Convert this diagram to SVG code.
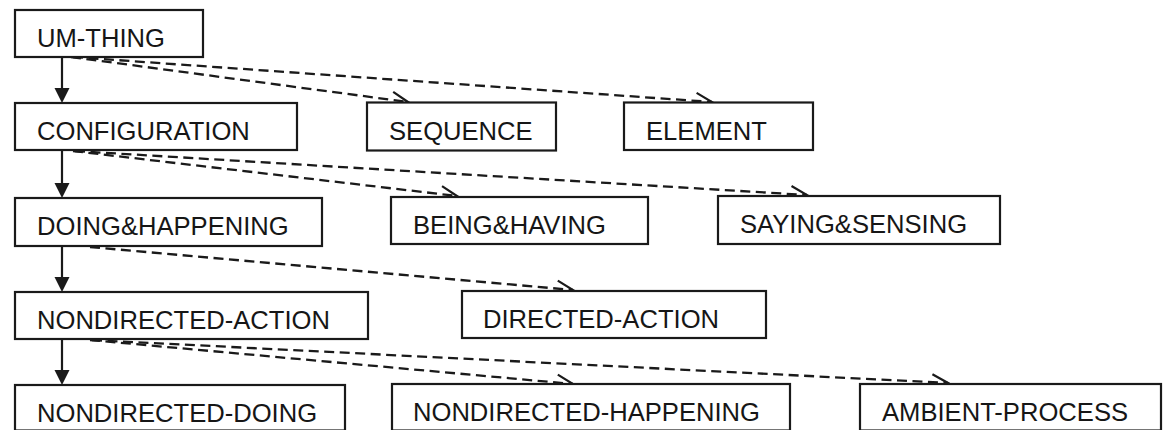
<svg xmlns="http://www.w3.org/2000/svg" width="1167" height="430" viewBox="0 0 1167 430">
  <style>
    .box { fill: #ffffff; stroke: #1a1a1a; stroke-width: 2.2; }
    .label { font-family: "Liberation Sans", Arial, Helvetica, sans-serif; font-size: 25.6px; fill: #161616; }
    .isa { stroke: #1a1a1a; stroke-width: 2.2; fill: none; }
    .rel { stroke: #1a1a1a; stroke-width: 2.3; fill: none; stroke-dasharray: 10 5.5; marker-end: url(#open); }
    .head { fill: #1a1a1a; stroke: none; }
  </style>
  <defs>
    <marker id="open" markerUnits="userSpaceOnUse" viewBox="-18 -10 20 20" refX="0" refY="0" markerWidth="20" markerHeight="20" orient="auto">
      <path d="M -16 -8 L 0 0 L -16 8" fill="none" stroke="#1a1a1a" stroke-width="2.2" stroke-dasharray="none"/>
    </marker>
  </defs>

  <rect width="1167" height="430" fill="#ffffff"/>

  <!-- connectors -->
  <g id="connectors">
    <!-- subtype links (solid, filled head) -->
    <line class="isa" x1="62" y1="57" x2="62" y2="89"/>
    <polygon class="head" points="54.5,88 69.5,88 62,103"/>
    <line class="isa" x1="62" y1="150" x2="62" y2="184"/>
    <polygon class="head" points="54.5,183 69.5,183 62,198"/>
    <line class="isa" x1="62" y1="246" x2="62" y2="278"/>
    <polygon class="head" points="54.5,277 69.5,277 62,292"/>
    <line class="isa" x1="62" y1="339" x2="62" y2="371"/>
    <polygon class="head" points="54.5,370 69.5,370 62,385"/>

    <!-- sibling links (dashed, open head) -->
    <line class="rel" x1="71" y1="57" x2="408" y2="102"/>
    <line class="rel" x1="73" y1="57" x2="712" y2="102"/>
    <line class="rel" x1="73" y1="151" x2="457" y2="196"/>
    <line class="rel" x1="75" y1="151" x2="807" y2="195"/>
    <line class="rel" x1="90" y1="247" x2="573" y2="290"/>
    <line class="rel" x1="90" y1="340" x2="573" y2="384"/>
    <line class="rel" x1="92" y1="340" x2="948" y2="383"/>
  </g>

  <g id="um-thing">
    <rect class="box" x="15" y="10" width="188" height="47"/>
    <text class="label" x="37" y="47">UM-THING</text>
  </g>
  <g id="configuration">
    <rect class="box" x="15" y="103" width="282" height="47"/>
    <text class="label" x="37" y="140">CONFIGURATION</text>
  </g>
  <g id="sequence">
    <rect class="box" x="367" y="102.5" width="189" height="48"/>
    <text class="label" x="389" y="140">SEQUENCE</text>
  </g>
  <g id="element">
    <rect class="box" x="624" y="102.5" width="189" height="47.5"/>
    <text class="label" x="646" y="140">ELEMENT</text>
  </g>
  <g id="doing-happening">
    <rect class="box" x="15" y="198" width="307" height="48"/>
    <text class="label" x="37" y="234.5">DOING&amp;HAPPENING</text>
  </g>
  <g id="being-having">
    <rect class="box" x="391" y="197" width="257" height="47"/>
    <text class="label" x="413" y="233.5">BEING&amp;HAVING</text>
  </g>
  <g id="saying-sensing">
    <rect class="box" x="718" y="196" width="282" height="48"/>
    <text class="label" x="740" y="233">SAYING&amp;SENSING</text>
  </g>
  <g id="nondirected-action">
    <rect class="box" x="15" y="292" width="353" height="47"/>
    <text class="label" x="37" y="328.5">NONDIRECTED-ACTION</text>
  </g>
  <g id="directed-action">
    <rect class="box" x="462" y="291" width="304" height="47"/>
    <text class="label" x="483" y="327.5">DIRECTED-ACTION</text>
  </g>
  <g id="nondirected-doing">
    <rect class="box" x="15" y="385" width="330" height="45.5"/>
    <text class="label" x="37" y="421.5">NONDIRECTED-DOING</text>
  </g>
  <g id="nondirected-happening">
    <rect class="box" x="392" y="384" width="398" height="46.5"/>
    <text class="label" x="413" y="421">NONDIRECTED-HAPPENING</text>
  </g>
  <g id="ambient-process">
    <rect class="box" x="860" y="384" width="301" height="46.5"/>
    <text class="label" x="882" y="421">AMBIENT-PROCESS</text>
  </g>
</svg>
